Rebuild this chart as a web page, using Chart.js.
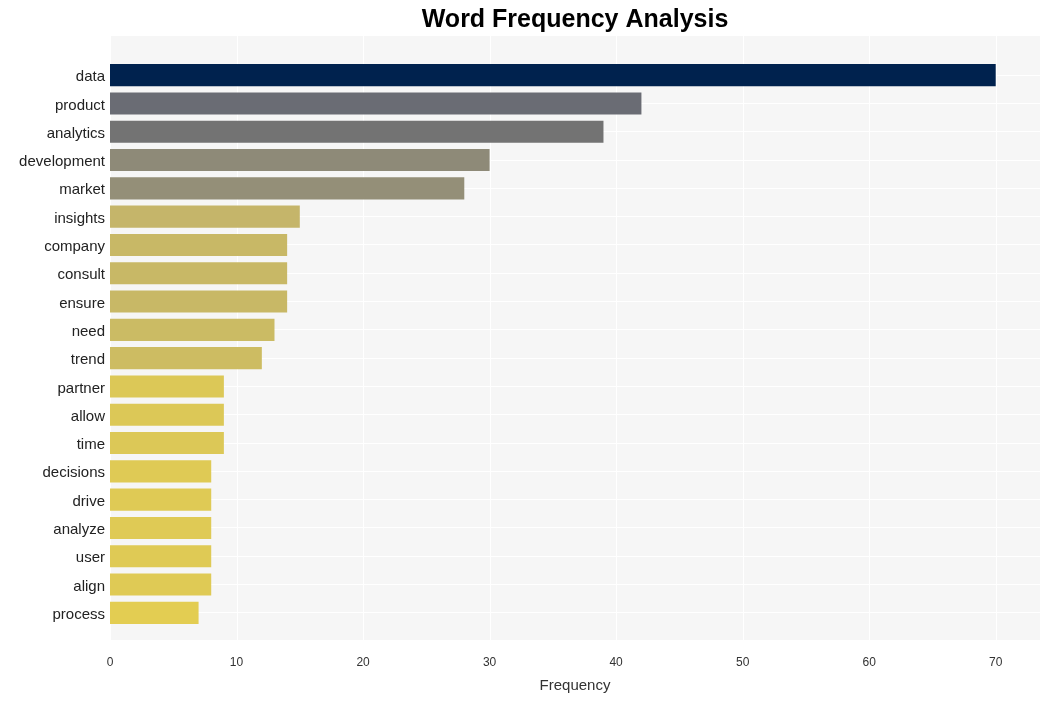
<!DOCTYPE html>
<html>
<head>
<meta charset="utf-8">
<script src="https://cdn.jsdelivr.net/npm/chart.js@4/dist/chart.umd.min.js"></script>
<style>
  html, body { margin: 0; padding: 0; background: #fff; }
  #wrap { width: 1050px; height: 701px; }
</style>
</head>
<body>
<div id="wrap"><canvas id="freqChart"></canvas></div>
<script>
const palavras = ['data', 'product', 'analytics', 'development', 'market', 'insights', 'company', 'consult', 'ensure', 'need',
    'trend', 'partner', 'allow', 'time', 'decisions', 'drive', 'analyze', 'user', 'align', 'process'];
const frequencias = [70, 42, 39, 30, 28, 15, 14, 14, 14, 13, 12, 9, 9, 9, 8, 8, 8, 8, 8, 7];
const cores = ['#00224e', '#6a6c74', '#737373', '#8e8a78', '#948f78', '#c5b56a', '#c8b866', '#c8b866', '#c8b866', '#cbbb64',
    '#cdbc62', '#dcc857', '#dcc857', '#dcc857', '#dfca55', '#dfca55', '#dfca55', '#dfca55', '#dfca55', '#e3cd52'];
const ticksX = [0, 10, 20, 30, 40, 50, 60, 70];
const titulo = 'Word Frequency Analysis';

// fundo do painel um pouco maior que a area das barras + titulo centrado no painel
const fundoPainel = {
    id: 'fundoPainel',
    beforeDraw(chart) {
        const { ctx, chartArea, scales } = chart;
        const topo = chartArea.top - 25;
        const base = chartArea.bottom + 13;
        ctx.save();
        ctx.fillStyle = '#f6f6f6';
        ctx.fillRect(chartArea.left, topo, chartArea.right - chartArea.left, base - topo);
        ctx.strokeStyle = '#ffffff';
        ctx.lineWidth = 1;
        ticksX.forEach(v => {
            const x = Math.round(scales.x.getPixelForValue(v)) + 0.5;
            ctx.beginPath();
            ctx.moveTo(x, topo);
            ctx.lineTo(x, base);
            ctx.stroke();
        });
        ctx.restore();
    },
    afterDraw(chart) {
        const { ctx, chartArea } = chart;
        ctx.save();
        ctx.fillStyle = '#000';
        ctx.font = 'bold 25px "Liberation Sans"';
        ctx.textAlign = 'center';
        ctx.textBaseline = 'middle';
        ctx.fillText(titulo, (chartArea.left + chartArea.right) / 2, 20);
        ctx.restore();
    }
};

new Chart(document.getElementById('freqChart'), {
    type: 'bar',
    data: {
        labels: palavras,
        datasets: [{
            data: frequencias,
            backgroundColor: cores,
            barPercentage: 0.78,
            categoryPercentage: 1
        }]
    },
    options: {
        indexAxis: 'y',
        responsive: true,
        maintainAspectRatio: false,
        animation: false,
        layout: { padding: { left: 0, right: 10, top: 61, bottom: 6 } },
        plugins: {
            legend: { display: false },
            tooltip: { enabled: false },
            title: { display: false }
        },
        scales: {
            x: {
                type: 'linear',
                min: 0,
                max: 73.5,
                border: { display: false },
                grid: { display: false, drawTicks: false },
                ticks: {
                    stepSize: 10,
                    includeBounds: false,
                    padding: 28,
                    color: '#333',
                    font: { family: 'Liberation Sans', size: 12 }
                },
                title: {
                    display: true,
                    text: 'Frequency',
                    color: '#333',
                    font: { family: 'Liberation Sans', size: 15 },
                    padding: { top: 4, bottom: 0 }
                },
                afterFit(scale) { scale.height = 68; }
            },
            y: {
                border: { display: false },
                grid: { color: '#ffffff', offset: false, drawTicks: false },
                ticks: {
                    padding: 5,
                    labelOffset: 2,
                    color: '#222',
                    font: { family: 'Liberation Sans', size: 15 }
                },
                afterFit(scale) { scale.width = 110; }
            }
        }
    },
    plugins: [fundoPainel]
});
</script>
</body>
</html>
